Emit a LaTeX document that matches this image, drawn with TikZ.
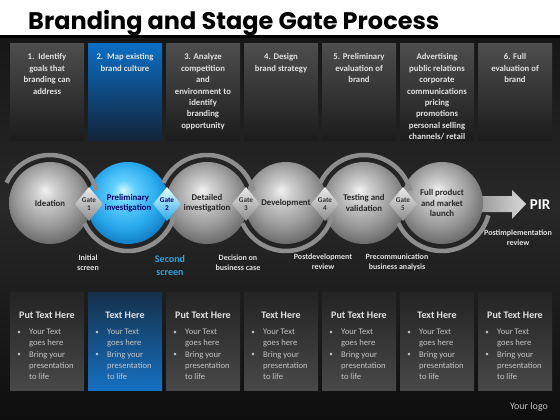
\documentclass[tikz,border=0pt]{standalone}
\usepackage{fontspec}
\setmainfont{Carlito}
\newfontfamily\titlefont{Poppins}
\usetikzlibrary{shapes.geometric}
\definecolor{bgtop}{HTML}{161616}
\definecolor{bgmid}{HTML}{282828}
\definecolor{bgbot}{HTML}{0E0E0E}
\definecolor{gbA}{HTML}{F2F2F2}
\definecolor{gbB}{HTML}{D0D0D0}
\definecolor{gbC}{HTML}{9A9A9A}
\definecolor{gbD}{HTML}{5E5E5E}
\definecolor{blA}{HTML}{D0F4FF}
\definecolor{blB}{HTML}{62D0FF}
\definecolor{blC}{HTML}{28A8EC}
\definecolor{blD}{HTML}{0A6CB4}
\definecolor{boxtop}{HTML}{4E4E4E}
\definecolor{boxbot}{HTML}{1C1C1C}
\definecolor{bluetop}{HTML}{0B6FC6}
\definecolor{bluebot}{HTML}{12243A}
\definecolor{lowtop}{HTML}{242424}
\definecolor{lowbot}{HTML}{484848}
\definecolor{lowbluetop}{HTML}{15304A}
\definecolor{lowbluebot}{HTML}{1670C2}
\definecolor{boxtext}{HTML}{E2E2E2}
\definecolor{bultext}{HTML}{C4C4C4}
\definecolor{arcgrey}{HTML}{8E8E8E}
\definecolor{skyblue}{HTML}{2AA4DC}
\pgfdeclareradialshading{greyball}{\pgfpoint{-3bp}{8bp}}{color(0bp)=(gbA); color(6bp)=(gbB); color(19bp)=(gbC); color(31bp)=(gbD); color(50bp)=(gbD)}
\pgfdeclareradialshading{blueball}{\pgfpoint{-3bp}{8bp}}{color(0bp)=(blA); color(7bp)=(blB); color(20bp)=(blC); color(32bp)=(blD); color(50bp)=(blD)}
\tikzset{
  topbox/.style={anchor=north, minimum width=74pt, minimum height=97pt, inner sep=0pt, top color=boxtop, bottom color=boxbot},
  topblue/.style={topbox, top color=bluetop, bottom color=bluebot},
  toptext/.style={anchor=north, align=center, inner sep=0pt, text=boxtext, font=\fontsize{8.7}{11.4}\selectfont\bfseries},
  lowbox/.style={anchor=north, minimum width=74pt, minimum height=98pt, inner sep=0pt, top color=lowtop, bottom color=lowbot},
  lowblue/.style={lowbox, top color=lowbluetop, bottom color=lowbluebot},
  lowhead/.style={anchor=base, inner sep=0pt, text=boxtext, font=\fontsize{10}{12}\selectfont\bfseries},
  bultxt/.style={anchor=north west, align=left, inner sep=0pt, text=bultext, font=\fontsize{8.6}{11.3}\selectfont},
  bulmark/.style={anchor=base, inner sep=0pt, text=bultext, font=\fontsize{7}{8}\selectfont},
  sphere/.style={circle, minimum size=82pt, inner sep=0pt, shading=greyball, align=center, text=black!85, font=\fontsize{8.8}{10.6}\selectfont\bfseries},
  bsphere/.style={sphere, shading=blueball, text=blue!40!black},
  ring/.style={draw=arcgrey, line width=4.5pt},
  gatebox/.style={diamond, minimum width=28pt, minimum height=34pt, inner sep=0pt, top color=white!92!black, bottom color=black!45, align=center, text=black!80, font=\fontsize{7.2}{8.4}\selectfont\bfseries},
  bgate/.style={gatebox, top color=cyan!8, bottom color=blC, text=blue!45!black},
  lbl/.style={align=center, inner sep=0pt, text=boxtext, font=\fontsize{8}{10}\selectfont\bfseries}
}
\begin{document}
\begin{tikzpicture}[x=1pt,y=-1pt]
\useasboundingbox (0,0) rectangle (560,420);
% background
\fill[white] (0,0) rectangle (560,36);
\shade[top color=bgtop, bottom color=bgmid] (0,36) rectangle (560,205);
\shade[top color=bgmid, bottom color=bgbot] (0,205) rectangle (560,420);
\fill[black] (0,35) rectangle (560,38);
\node[anchor=base west, inner sep=0pt, font=\titlefont\bfseries\fontsize{24}{26}\selectfont] (title) at (28,30) {Branding and Stage Gate Process};
% top boxes
\node[topbox]  (t1) at (47,43) {};
\node[topblue] (t2) at (125,43) {};
\node[topbox]  (t3) at (203,43) {};
\node[topbox]  (t4) at (281,43) {};
\node[topbox]  (t5) at (359,43) {};
\node[topbox]  (t6) at (437,43) {};
\node[topbox]  (t7) at (515,43) {};
\node[toptext] (tt1) at (47,53.5) {1.\ \ Identify\\goals that\\branding can\\address};
\node[toptext] (tt2) at (125,53.5) {2.\ \ Map existing\\brand culture};
\node[toptext] (tt3) at (203,53.5) {3. Analyze\\competition\\and\\environment to\\identify\\branding\\opportunity};
\node[toptext] (tt4) at (281,53.5) {4. Design\\brand strategy};
\node[toptext] (tt5) at (359,53.5) {5. Preliminary\\evaluation of\\brand};
\node[toptext] (tt6) at (437,53.5) {Advertising\\public relations\\corporate\\communications\\pricing\\promotions\\personal selling\\channels/ retail};
\node[toptext] (tt7) at (515,53.5) {6. Full\\evaluation of\\brand};
% bottom boxes
\foreach \k/\x/\h/\s in {1/47/Put Text Here/lowbox, 2/125/Text Here/lowblue, 3/203/Put Text Here/lowbox, 4/281/Text Here/lowbox, 5/359/Put Text Here/lowbox, 6/437/Text Here/lowbox, 7/515/Put Text Here/lowbox}{
  \node[\s] (b\k) at (\x,292) {};
  \node[lowhead] (bh\k) at (\x,318) {\h};
  \node[bulmark] (bm\k a) at (\x-28,334) {\textbullet};
  \node[bultxt] (bt\k a) at (\x-18,328.4) {Your Text\\goes here};
  \node[bulmark] (bm\k b) at (\x-28,356.6) {\textbullet};
  \node[bultxt] (bt\k b) at (\x-18,351) {Bring your\\presentation\\to life};
}
% arrow to PIR
\coordinate (a1) at (470,196);
\coordinate (a2) at (512,196);
\coordinate (a3) at (512,190);
\coordinate (a4) at (526,204);
\coordinate (a5) at (512,219);
\coordinate (a6) at (512,212);
\coordinate (a7) at (470,212);
\shade[left color=black!45, right color=black!15] (a1) -- (a2) -- (a3) -- (a4) -- (a5) -- (a6) -- (a7) -- cycle;
% spheres
\node[sphere]  (s1) at (50,203) {Ideation};
\node[bsphere] (s2) at (128,203) {Preliminary\\investigation};
\node[sphere]  (s3) at (207,203) {Detailed\\investigation};
\node[sphere]  (s4) at (286,203) {Development};
\node[sphere]  (s5) at (364,203) {Testing and\\validation};
\node[sphere]  (s6) at (442,203) {Full product\\and market\\launch};
% rings
\draw[ring] (s1.center) ++(205:48) arc[start angle=205, end angle=345, radius=48];
\draw[ring] (s2.center) ++(155:48) arc[start angle=155, end angle=15, radius=48];
\draw[ring] (s3.center) ++(205:48) arc[start angle=205, end angle=345, radius=48];
\draw[ring] (s4.center) ++(155:48) arc[start angle=155, end angle=15, radius=48];
\draw[ring] (s5.center) ++(205:48) arc[start angle=205, end angle=345, radius=48];
\draw[ring] (s6.center) ++(155:48) arc[start angle=155, end angle=15, radius=48];
% gates
\node[gatebox] (g1) at (89,204) {Gate\\1};
\node[bgate]   (g2) at (167,204) {Gate\\2};
\node[gatebox] (g3) at (246,204) {Gate\\3};
\node[gatebox] (g4) at (325,204) {Gate\\4};
\node[gatebox] (g5) at (403,204) {Gate\\5};
% labels
\node[lbl] (l1) at (88,263) {Initial\\screen};
\node[lbl, text=skyblue, font=\fontsize{10}{13}\selectfont\bfseries] (l2) at (170,266) {Second\\screen};
\node[lbl] (l3) at (238,263) {Decision on\\business case};
\node[lbl] (l4) at (323,262) {Postdevelopment\\review};
\node[lbl] (l5) at (397,262) {Precommunication\\business analysis};
\node[lbl] (l6) at (518,238) {Postimplementation\\review};
\node[anchor=center, inner sep=0pt, text=white, font=\fontsize{15}{16}\selectfont\bfseries] (pir) at (540,205) {PIR};
\node[inner sep=0pt, text=black!25, font=\fontsize{10}{12}\selectfont] (logo) at (529,407) {Your logo};
\end{tikzpicture}
\end{document}
